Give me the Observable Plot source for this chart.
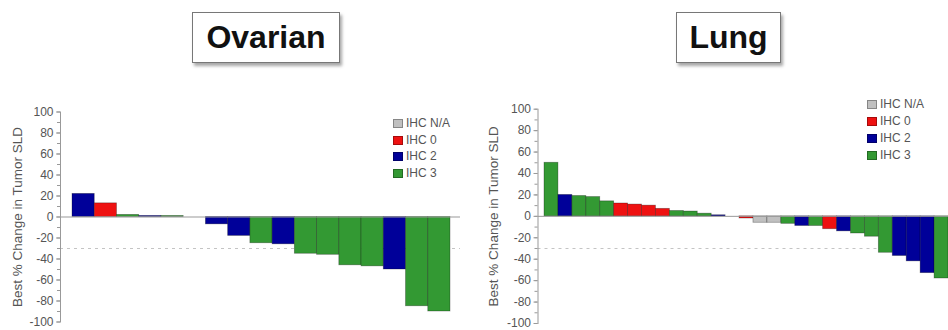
<!DOCTYPE html>
<html><head><meta charset="utf-8">
<script src="https://cdn.jsdelivr.net/npm/d3@7"></script>
<script src="https://cdn.jsdelivr.net/npm/@observablehq/plot@0.6"></script>
<style>
body{margin:0;background:#fff;font-family:"Liberation Sans",Arial,sans-serif;}
#root{position:relative;width:948px;height:330px;overflow:hidden;background:#fff;}
.title{position:absolute;top:12px;height:51px;box-sizing:border-box;border:1.5px solid #777;box-shadow:2px 3px 3px rgba(0,0,0,0.35);font-weight:bold;font-size:32px;display:flex;align-items:center;justify-content:center;background:#fff;color:#111;}
.panel{position:absolute;top:90px;}
.legend{position:absolute;font-size:12px;color:#555;line-height:16.5px;}
.legend .sw{display:inline-block;width:10px;height:9px;margin-right:3px;vertical-align:-1px;border:1px solid rgba(0,0,0,0.3);box-sizing:border-box;}
</style></head>
<body>
<div id="root">
  <div class="title" style="left:192px;width:148px;">Ovarian</div>
  <div class="title" style="left:676px;width:105px;">Lung</div>
  <div class="panel" id="ov" style="left:0px;"></div>
  <div class="panel" id="lu" style="left:474px;"></div>
  <div class="legend" id="legOv" style="left:393px;top:115px;"></div>
  <div class="legend" id="legLu" style="left:867px;top:96px;line-height:17px;"></div>
</div>
<script>
const legendLabels = ["IHC N/A", "IHC 0", "IHC 2", "IHC 3"];
const legendColors = ["#c0c0c0", "#ee1111", "#000099", "#339933"];
const yTicksMajor = [-100, -80, -60, -40, -20, 0, 20, 40, 60, 80, 100];
const yTicksMinor = [-100, -90, -80, -70, -60, -50, -40, -30, -20, -10, 0, 10, 20, 30, 40, 50, 60, 70, 80, 90, 100];
const yLabel = "Best % Change in Tumor SLD";
const thresholdLine = [-30];

const ovarianValues = [22, 13, 2, 1, 1, 0, -7, -18, -25, -26, -35, -36, -46, -47, -50, -85, -90];
const ovarianIHC = ["IHC 2","IHC 0","IHC 3","IHC 2","IHC 3","IHC 3","IHC 2","IHC 2","IHC 3","IHC 2","IHC 3","IHC 3","IHC 3","IHC 3","IHC 2","IHC 3","IHC 3"];

const lungValues = [50, 20, 19, 18, 14, 12, 11, 10, 7, 5, 4.5, 2.5, 1, 0, -2, -6, -6, -7, -9, -9, -12, -14, -16, -19, -34, -37, -42, -53, -58];
const lungIHC = ["IHC 3","IHC 2","IHC 3","IHC 3","IHC 3","IHC 0","IHC 0","IHC 0","IHC 0","IHC 3","IHC 3","IHC 3","IHC 2","IHC 3","IHC 0","IHC N/A","IHC N/A","IHC 3","IHC 2","IHC 3","IHC 0","IHC 2","IHC 3","IHC 3","IHC 3","IHC 2","IHC 2","IHC 2","IHC 3"];

function panel(values, ihc, o) {
  const data = values.map((v, i) => ({i, v, c: ihc[i]}));
  return Plot.plot({
    width: 474, height: 240,
    marginLeft: o.ml, marginRight: o.mr, marginTop: o.mt, marginBottom: o.mb,
    x: {type: "band", domain: d3.range(values.length), range: o.xr, padding: 0, round: false, axis: null},
    y: {domain: [-100, 100], axis: null},
    color: {domain: legendLabels, range: legendColors},
    style: {fontFamily: "Liberation Sans, Arial, sans-serif", fontSize: "12px", color: "#555", background: "transparent"},
    marks: [
      Plot.ruleY(thresholdLine, {stroke: "#c4c4c4", strokeDasharray: "3,4"}),
      Plot.barY(data, {x: "i", y: "v", fill: "c", stroke: "#000", strokeOpacity: 0.35, strokeWidth: 0.8}),
      Plot.ruleY([0], {stroke: "#999"}),
      Plot.axisY({ticks: yTicksMinor, tickSize: 3, text: null, label: null, stroke: "#999"}),
      Plot.axisY({ticks: yTicksMajor, tickSize: 4, tickPadding: 3, tickFormat: d => String(d), fill: "#555", stroke: "#999", label: null, fontSize: 12}),
      Plot.axisY({ticks: [], tickSize: 0, label: yLabel, labelAnchor: "center", labelOffset: o.lo, labelArrow: "none", fill: "#555", fontSize: 13.5}),
      Plot.frame({anchor: "left", stroke: "#999"})
    ]
  });
}

document.getElementById("ov").append(panel(ovarianValues, ovarianIHC, {ml: 60, mr: 14, mt: 21.5, mb: 8.5, xr: [72, 450], lo: 48}));
document.getElementById("lu").append(panel(lungValues, lungIHC, {ml: 63.5, mr: 0, mt: 18.7, mb: 7, xr: [70, 474], lo: 50}));

function legend(id) {
  const el = document.getElementById(id);
  legendLabels.forEach((l, k) => {
    const row = document.createElement("div");
    const sw = document.createElement("span");
    sw.className = "sw";
    sw.style.background = legendColors[k];
    row.append(sw, document.createTextNode(l));
    el.append(row);
  });
}
legend("legOv");
legend("legLu");
</script>
</body></html>
